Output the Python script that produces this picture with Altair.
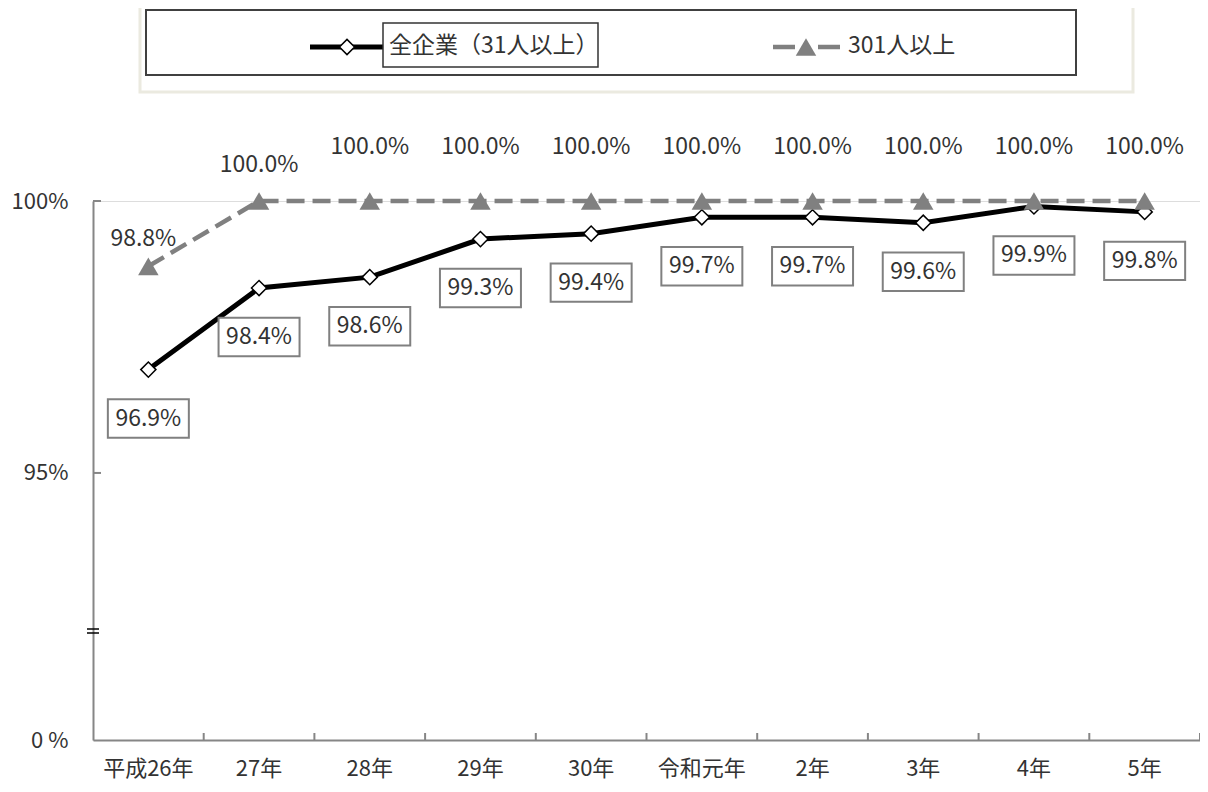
import altair as alt
import pandas as pd

FONT = "Noto Sans CJK JP"

years = ["平成26年", "27年", "28年", "29年", "30年", "令和元年", "2年", "3年", "4年", "5年"]
all_companies = [96.9, 98.4, 98.6, 99.3, 99.4, 99.7, 99.7, 99.6, 99.9, 99.8]
large_companies = [98.8, 100.0, 100.0, 100.0, 100.0, 100.0, 100.0, 100.0, 100.0, 100.0]
series_names = ["全企業（31人以上）", "301人以上"]
y_tick_values = [95, 100]
Y_BOTTOM = 90.09  # broken axis: bottom of the axis is labelled 0%

df_all = pd.DataFrame({"year": years, "value": all_companies,
                       "label": [f"{v:.1f}%" for v in all_companies]})
df_large = pd.DataFrame({"year": years, "value": large_companies,
                         "label": [f"{v:.1f}%" for v in large_companies]})
df_yticks = pd.DataFrame({"value": y_tick_values})
one = pd.DataFrame({"t": [series_names[0]], "u": [series_names[1]]})

GRAY = "#868686"
TXT = "#333333"
LAB = 23

x_scale = alt.Scale(type="band", domain=years, paddingInner=0, paddingOuter=0)
x_axis = alt.Axis(title=None, ticks=False, tickSize=0, labelAngle=0, labelFontSize=22,
                  labelPadding=18, labelColor=TXT, labelFont=FONT,
                  domainColor=GRAY, domainWidth=2, grid=False)
y_scale = alt.Scale(domain=[Y_BOTTOM, 100], nice=False, zero=False)
y_axis = alt.Axis(title=None, values=[Y_BOTTOM] + y_tick_values, ticks=False, tickSize=0,
                  labelExpr="datum.value < 94 ? '0 %' : format(datum.value, 'd') + '%'",
                  labelFontSize=22, labelPadding=25, labelColor=TXT, labelFont=FONT,
                  domainColor=GRAY, domainWidth=2, grid=False)


def X(**kw):
    return alt.X("year:N", scale=x_scale, sort=years, axis=x_axis, **kw)


def Y():
    return alt.Y("value:Q", scale=y_scale, axis=y_axis)


base_all = alt.Chart(df_all)
base_large = alt.Chart(df_large)

DASH = [18, 8]
TRI = 420
DIA = 230

line_large = base_large.mark_line(color="#808080", strokeWidth=4.5, strokeDash=DASH).encode(x=X(), y=Y())
line_all = base_all.mark_line(color="black", strokeWidth=5).encode(x=X(), y=Y())
pts_all = base_all.mark_point(shape="diamond", filled=True, fill="white", stroke="black",
                              strokeWidth=1.5, size=DIA, opacity=1).encode(x=X(), y=Y())
pts_large = base_large.mark_point(shape="triangle-up", filled=True, color="#808080",
                                  size=TRI, opacity=1).encode(x=X(), y=Y())

lab_large_0 = base_large.transform_filter(alt.datum.year == years[0]).mark_text(
    fontSize=LAB, color=TXT, font=FONT, dy=-27, dx=-5).encode(x=X(), y=Y(), text="label:N")
lab_large_1 = base_large.transform_filter(alt.datum.year == years[1]).mark_text(
    fontSize=LAB, color=TXT, font=FONT, dy=-36).encode(x=X(), y=Y(), text="label:N")
lab_large_r = base_large.transform_filter(
    (alt.datum.year != years[0]) & (alt.datum.year != years[1])).mark_text(
    fontSize=LAB, color=TXT, font=FONT, dy=-54).encode(x=X(), y=Y(), text="label:N")

box_path = "M-1,-0.475L1,-0.475L1,0.475L-1,0.475Z"
box_all = base_all.mark_point(shape=box_path, filled=True, fill="white", stroke="#808080",
                              strokeWidth=2, size=6560, opacity=1, yOffset=49).encode(
    x=X(), y=Y())
lab_all = base_all.mark_text(fontSize=LAB, color=TXT, font=FONT, dy=49).encode(
    x=X(), y=Y(), text="label:N")

# inward axis ticks
xticks = base_all.mark_rule(color=GRAY, strokeWidth=2).encode(
    x=X(bandPosition=1), y=alt.value(539), y2=alt.value(532))
yticks = alt.Chart(df_yticks).mark_rule(color=GRAY, strokeWidth=2).encode(
    y=Y(), x=alt.value(0), x2=alt.value(8))

# axis break marks
brk1 = alt.Chart(one).mark_rule(color="black", strokeWidth=1.5).encode(
    x=alt.value(-6), x2=alt.value(6), y=alt.value(428))
brk2 = alt.Chart(one).mark_rule(color="black", strokeWidth=1.5).encode(
    x=alt.value(-6), x2=alt.value(6), y=alt.value(432))

# legend (drawn)
leg_outer = alt.Chart(one).mark_rect(fill="white", stroke="#ebeae0", strokeWidth=3).encode(
    x=alt.value(47), x2=alt.value(1040), y=alt.value(-198), y2=alt.value(-109))
leg_inner = alt.Chart(one).mark_rect(fill="white", stroke="#404040", strokeWidth=2).encode(
    x=alt.value(53), x2=alt.value(983), y=alt.value(-191), y2=alt.value(-126))
leg_line1 = alt.Chart(one).mark_rule(color="black", strokeWidth=5).encode(
    x=alt.value(217), x2=alt.value(292), y=alt.value(-154))
leg_pt1 = alt.Chart(one).mark_point(shape="diamond", filled=True, fill="white", stroke="black",
                                    strokeWidth=1.5, size=DIA, opacity=1).encode(
    x=alt.value(254), y=alt.value(-154))
leg_box1 = alt.Chart(one).mark_rect(fill="white", stroke="#333333", strokeWidth=1.5).encode(
    x=alt.value(290), x2=alt.value(505), y=alt.value(-178), y2=alt.value(-134))
leg_txt1 = alt.Chart(one).mark_text(fontSize=23, color=TXT, font=FONT, align="left",
                                    baseline="middle").encode(
    x=alt.value(296), y=alt.value(-155), text="t:N")
leg_line2 = alt.Chart(one).mark_rule(color="#808080", strokeWidth=4.5, strokeDash=[22, 23]).encode(
    x=alt.value(680), x2=alt.value(747), y=alt.value(-154))
leg_pt2 = alt.Chart(one).mark_point(shape="triangle-up", filled=True, color="#808080",
                                    size=TRI, opacity=1).encode(
    x=alt.value(713), y=alt.value(-154))
leg_txt2 = alt.Chart(one).mark_text(fontSize=23, color=TXT, font=FONT, align="left",
                                    baseline="middle").encode(
    x=alt.value(755), y=alt.value(-155), text="u:N")

chart = alt.layer(
    xticks, yticks, brk1, brk2,
    line_large, line_all, pts_all, pts_large,
    lab_large_0, lab_large_1, lab_large_r, box_all, lab_all,
    leg_outer, leg_inner, leg_line1, leg_pt1, leg_box1, leg_txt1,
    leg_line2, leg_pt2, leg_txt2,
).properties(
    width=1107, height=539,
    padding={"left": 85, "top": 193, "right": 0, "bottom": 44},
    autosize=alt.AutoSizeParams(type="none"),
).configure_view(stroke=None).configure(font=FONT)

chart.save("out.html", embed_options={"renderer": "svg", "actions": False})
